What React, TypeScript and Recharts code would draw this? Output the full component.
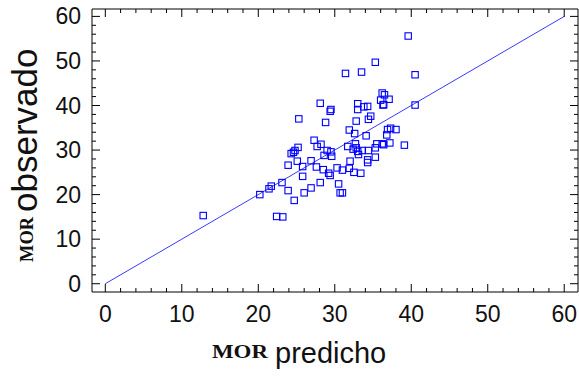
import { ScatterChart, Scatter, XAxis, YAxis, ReferenceLine } from "recharts";

// MOR predicho (x) vs MOR observado (y)
const predicho = [
  12.8, 20.2, 21.4, 21.7, 22.4, 23.1, 23.2, 23.9, 24.7, 23.9, 24.3, 24.6, 24.8, 25.2, 25.1,
  25.8, 25.8, 25.3, 26.0, 26.9, 26.9, 27.6, 27.3, 27.7, 28.1, 28.1, 28.2, 28.5, 28.6, 28.8,
  29.0, 29.2, 29.4, 29.5, 29.6, 29.5, 29.4, 30.3, 30.5, 30.7, 31.0, 31.0, 31.4, 31.7, 31.9,
  31.9, 32.0, 32.4, 32.5, 32.6, 32.7, 32.8, 32.8, 33.0, 33.1, 33.0, 33.0, 33.4, 33.5, 33.6,
  33.8, 34.1, 34.3, 34.3, 34.3, 34.4, 34.4, 34.7, 35.3, 35.3, 35.3, 35.5, 36.0, 36.2, 36.4,
  36.2, 36.3, 36.4, 36.5, 36.8, 36.9, 37.1, 37.2, 37.3, 38.0, 39.1, 39.6, 40.5, 40.5,
];
const observado = [
  15.3, 20.0, 21.3, 21.9, 15.1, 22.7, 15.0, 20.9, 18.7, 26.6, 29.2, 29.5, 29.9, 30.6, 27.5,
  26.3, 24.1, 37.0, 20.4, 21.5, 27.6, 26.2, 32.2, 30.8, 22.7, 40.5, 31.3, 25.6, 28.8, 36.2,
  29.9, 24.8, 24.3, 29.6, 28.6, 39.1, 38.7, 26.0, 22.4, 20.4, 20.4, 25.5, 47.2, 30.8, 25.9,
  34.5, 27.5, 30.2, 25.0, 33.7, 31.4, 30.5, 36.5, 29.7, 29.0, 39.1, 40.4, 24.8, 47.5, 29.9,
  39.7, 33.2, 27.2, 27.8, 39.8, 29.9, 36.9, 37.6, 28.4, 30.5, 49.7, 31.4, 41.2, 31.4, 31.2,
  42.8, 40.1, 40.2, 42.4, 33.4, 34.6, 41.4, 31.6, 34.9, 34.6, 31.1, 55.6, 46.9, 40.1,
];
const ticks = [0, 2, 4, 6, 8, 10, 12, 14, 16, 18, 20, 22, 24, 26, 28, 30, 32, 34, 36, 38, 40, 42, 44, 46, 48, 50, 52, 54, 56, 58, 60];
const lineEnds = [0, 60];

const data = predicho.map((x, i) => ({ x, y: observado[i] }));

const xDomain = [-1.74, 61.8];
const yDomain = [-1.86, 61.66];
const sans = "'Liberation Sans', Arial, sans-serif";
const serif = "'Liberation Serif', 'Times New Roman', serif";
const ink = "#111";

const Square = (props: any) => {
  const { cx, cy } = props;
  return <rect x={cx - 3.2} y={cy - 3.2} width={6.4} height={6.4} fill="none" stroke="#0000ff" strokeWidth={1.1} />;
};

// keeps the top/right frame axes alive, draws nothing
const Nothing = () => <g />;

const isMajor = (v: number) => v % 10 === 0;

const BottomTick = ({ x, y, payload }: any) => (
  <g>
    <line x1={x} y1={y} x2={x} y2={y - (isMajor(payload.value) ? 8 : 4)} stroke="#000" />
    {isMajor(payload.value) && (
      <text x={x} y={y + 30} textAnchor="middle" fontSize={23} fontFamily={sans} fill={ink}>
        {payload.value}
      </text>
    )}
  </g>
);

const TopTick = ({ x, y, payload }: any) => (
  <line x1={x} y1={y} x2={x} y2={y + (isMajor(payload.value) ? 8 : 4)} stroke="#000" />
);

const LeftTick = ({ x, y, payload }: any) => (
  <g>
    <line x1={x} y1={y} x2={x + (isMajor(payload.value) ? 8 : 4)} y2={y} stroke="#000" />
    {isMajor(payload.value) && (
      <text x={x - 11} y={y + 8} textAnchor="end" fontSize={23} fontFamily={sans} fill={ink}>
        {payload.value}
      </text>
    )}
  </g>
);

const RightTick = ({ x, y, payload }: any) => (
  <line x1={x} y1={y} x2={x - (isMajor(payload.value) ? 8 : 4)} y2={y} stroke="#000" />
);

const XTitle = () => (
  <g>
    <text x={212} y={358} fontSize={18} fontWeight="bold" fontFamily={serif} fill={ink} textLength={56} lengthAdjust="spacingAndGlyphs">
      MOR
    </text>
    <text x={275} y={363} fontSize={29} fontFamily={sans} fill={ink}>
      predicho
    </text>
  </g>
);

const YTitle = () => (
  <g>
    <text transform="translate(33,262) rotate(-90)" fontSize={19} fontWeight="bold" fontFamily={serif} fill={ink} textLength={45} lengthAdjust="spacingAndGlyphs">
      MOR
    </text>
    <text transform="translate(37,212) rotate(-90)" fontSize={35} fontFamily={sans} fill={ink}>
      observado
    </text>
  </g>
);

export default function App() {
  return (
    <div style={{ position: "absolute", left: 0, top: 0, background: "#fff" }}>
      <ScatterChart width={579} height={376} margin={{ top: 8, right: 0, bottom: 44, left: 0 }}>
        <XAxis
          type="number"
          dataKey="x"
          domain={xDomain}
          allowDataOverflow
          ticks={ticks}
          interval={0}
          tickSize={0}
          tickMargin={0}
          tick={BottomTick}
          axisLine={{ stroke: "#000" }}
          height={40}
          label={{ content: XTitle }}
        />
        <XAxis
          xAxisId="top"
          orientation="top"
          type="number"
          dataKey="x"
          domain={xDomain}
          allowDataOverflow
          ticks={ticks}
          interval={0}
          tickSize={0}
          tickMargin={0}
          tick={TopTick}
          axisLine={{ stroke: "#000" }}
          height={1}
        />
        <YAxis
          type="number"
          dataKey="y"
          domain={yDomain}
          allowDataOverflow
          ticks={ticks}
          interval={0}
          tickSize={0}
          tickMargin={0}
          tick={LeftTick}
          axisLine={{ stroke: "#000" }}
          width={92}
          label={{ content: YTitle }}
        />
        <YAxis
          yAxisId="right"
          orientation="right"
          type="number"
          dataKey="y"
          domain={yDomain}
          allowDataOverflow
          ticks={ticks}
          interval={0}
          tickSize={0}
          tickMargin={0}
          tick={RightTick}
          axisLine={{ stroke: "#000" }}
          width={1}
        />
        <ReferenceLine
          segment={[
            { x: lineEnds[0], y: lineEnds[0] },
            { x: lineEnds[1], y: lineEnds[1] },
          ]}
          stroke="#3a3aff"
          strokeWidth={1}
        />
        <Scatter data={data} xAxisId="top" yAxisId="right" shape={Nothing} isAnimationActive={false} />
        <Scatter data={data} shape={Square} isAnimationActive={false} />
      </ScatterChart>
    </div>
  );
}
